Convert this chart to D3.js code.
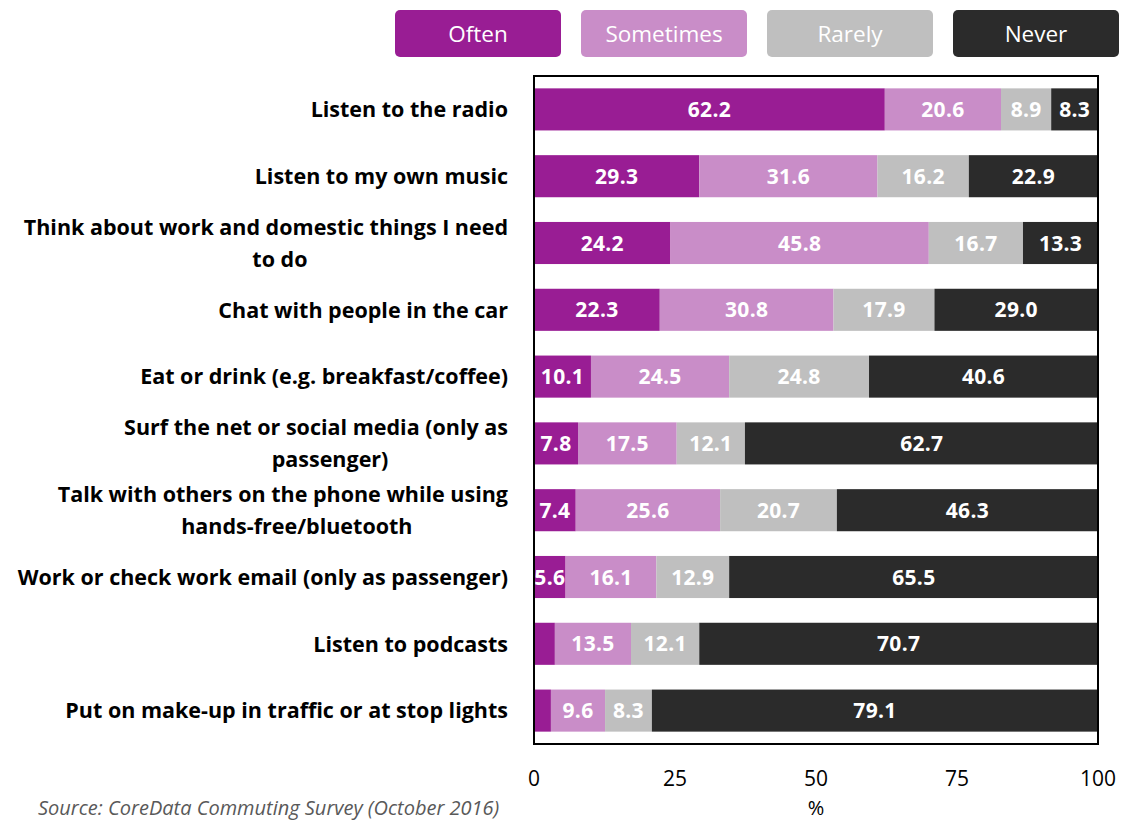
<!DOCTYPE html>
<html>
<head>
<meta charset="utf-8">
<script src="https://cdn.jsdelivr.net/npm/d3@7"></script>
<style>
  body { margin: 0; background: #fff; }
  svg { display: block; font-family: "Open Sans", sans-serif; }
</style>
</head>
<body>
<svg id="chart"></svg>
<script>
var activities = [
    "Listen to the radio",
    "Listen to my own music",
    "Think about work and domestic things I need|to do",
    "Chat with people in the car",
    "Eat or drink (e.g. breakfast/coffee)",
    "Surf the net or social media (only as|passenger)",
    "Talk with others on the phone while using|hands-free/bluetooth",
    "Work or check work email (only as passenger)",
    "Listen to podcasts",
    "Put on make-up in traffic or at stop lights"
];
var often = [62.2, 29.3, 24.2, 22.3, 10.1, 7.8, 7.4, 5.6, 3.7, 3.0];
var sometimes = [20.6, 31.6, 45.8, 30.8, 24.5, 17.5, 25.6, 16.1, 13.5, 9.6];
var rarely = [8.9, 16.2, 16.7, 17.9, 24.8, 12.1, 20.7, 12.9, 12.1, 8.3];
var never = [8.3, 22.9, 13.3, 29.0, 40.6, 62.7, 46.3, 65.5, 70.7, 79.1];
var seriesNames = ["Often", "Sometimes", "Rarely", "Never"];
var seriesColors = ["#991d94", "#c98dc8", "#bfbfbf", "#2b2b2b"];
var ticks = [0, 25, 50, 75, 100];

var width = 1123, height = 821;
var margin = {left: 534, right: 25, top: 76, bottom: 77};

var svg = d3.select("#chart").attr("width", width).attr("height", height);

var x = d3.scaleLinear().domain([0, 100]).range([margin.left, width - margin.right]);
var y = d3.scaleBand().domain(activities).range([margin.top, height - margin.bottom])
    .paddingInner(0.37).paddingOuter(0.185);

var table = activities.map(function(a, i) {
    return {activity: a, Often: often[i], Sometimes: sometimes[i], Rarely: rarely[i], Never: never[i]};
});
var stacked = d3.stack().keys(seriesNames)(table);

// bars
var groups = svg.append("g").selectAll("g").data(stacked).enter().append("g")
    .attr("fill", function(d, i) { return seriesColors[i]; });

groups.selectAll("rect").data(function(d) { return d; }).enter().append("rect")
    .attr("x", function(d) { return x(d[0]); })
    .attr("width", function(d) { return x(d[1]) - x(d[0]); })
    .attr("y", function(d) { return y(d.data.activity); })
    .attr("height", y.bandwidth());

// value labels, too-small segments stay unlabelled
groups.selectAll("text").data(function(d) { return d.filter(function(p) { return p[1] - p[0] >= 5; }); })
    .enter().append("text")
    .attr("x", function(d) { return (x(d[0]) + x(d[1])) / 2; })
    .attr("y", function(d) { return y(d.data.activity) + y.bandwidth() / 2; })
    .attr("dy", "0.36em")
    .attr("text-anchor", "middle")
    .attr("fill", "#fff")
    .attr("font-weight", "bold")
    .attr("font-size", 21)
    .attr("letter-spacing", 0.3)
    .text(function(d) { return (d[1] - d[0]).toFixed(1); });

// plot frame
svg.append("rect")
    .attr("x", x(0)).attr("y", margin.top)
    .attr("width", x(100) - x(0)).attr("height", height - margin.bottom - margin.top)
    .attr("fill", "none").attr("stroke", "#000").attr("stroke-width", 2);

// category labels
var labelRight = 508;
svg.append("g").selectAll("g").data(activities).enter().append("g")
    .each(function(a) {
        var g = d3.select(this);
        var lines = a.split("|");
        var cy = y(a) + y.bandwidth() / 2;
        var first = g.append("text")
            .attr("x", labelRight).attr("y", cy - (lines.length - 1) * 16)
            .attr("dy", "0.36em").attr("text-anchor", "end")
            .attr("font-weight", "bold").attr("font-size", 21.5).attr("fill", "#000")
            .text(lines[0]);
        if (lines.length > 1) {
            var w = first.node().getComputedTextLength();
            g.append("text")
                .attr("x", labelRight - w / 2 + 14).attr("y", cy + 16)
                .attr("dy", "0.36em").attr("text-anchor", "middle")
                .attr("font-weight", "bold").attr("font-size", 21.5).attr("fill", "#000")
                .text(lines[1]);
        }
    });

// x axis tick labels
svg.append("g").selectAll("text").data(ticks).enter().append("text")
    .attr("x", function(d) { return x(d); })
    .attr("y", 778).attr("dy", "0.36em")
    .attr("text-anchor", "middle").attr("font-size", 21).attr("fill", "#000")
    .text(function(d) { return d; });

svg.append("text").attr("x", x(50)).attr("y", 808).attr("dy", "0.36em")
    .attr("text-anchor", "middle").attr("font-size", 20).attr("fill", "#000").text("%");

// source
svg.append("text").attr("x", 38).attr("y", 815)
    .attr("font-size", 20).attr("font-style", "italic").attr("fill", "#595959")
    .text("Source: CoreData Commuting Survey (October 2016)");

// legend
var legendX = [395, 581, 767, 953];
var legend = svg.append("g").selectAll("g").data(seriesNames).enter().append("g")
    .attr("transform", function(d, i) { return "translate(" + legendX[i] + ",10)"; });
legend.append("rect").attr("width", 166).attr("height", 47).attr("rx", 5)
    .attr("fill", function(d, i) { return seriesColors[i]; });
legend.append("text").attr("x", 83).attr("y", 24).attr("dy", "0.36em")
    .attr("text-anchor", "middle").attr("font-size", 22.5).attr("fill", "#fff")
    .text(function(d) { return d; });
</script>
</body>
</html>
